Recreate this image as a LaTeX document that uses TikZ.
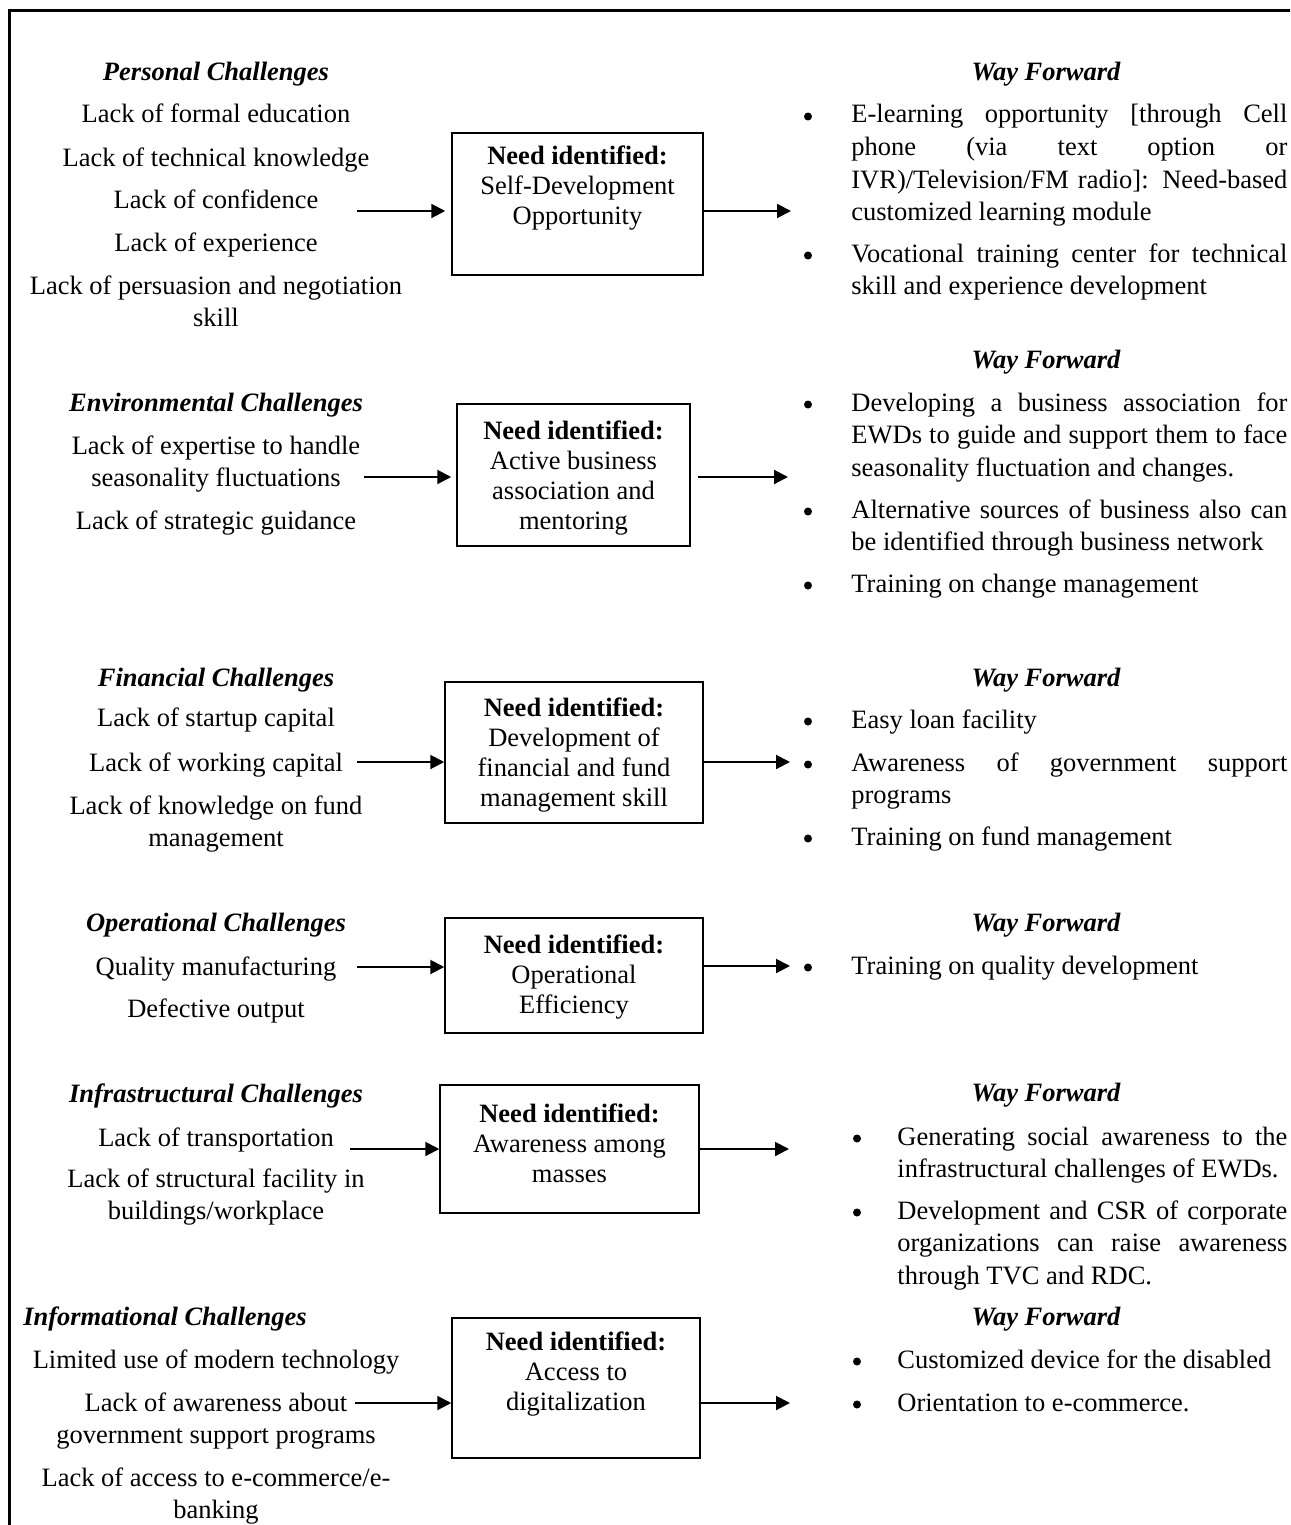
\documentclass[tikz,border=0pt]{standalone}
\usepackage{fontspec}
\setmainfont{Liberation Serif}
\usetikzlibrary{arrows.meta}
\newcommand{\cl}[1]{\begin{tabular}[t]{@{}c@{}}#1\end{tabular}}
\newcommand{\bt}[2]{\parbox[t]{#1}{#2}}
\begin{document}
\begin{tikzpicture}[x=0.5pt,y=-0.5pt,
  every node/.style={inner sep=0pt, font=\fontsize{13.25pt}{16.25pt}\selectfont},
  head/.style={anchor=base, yshift=-1pt, font=\fontsize{13.25pt}{16.25pt}\selectfont\bfseries\itshape},
  item/.style={anchor=base, yshift=-1pt},
  needbox/.style={draw, line width=0.75pt, inner sep=0pt},
  boxtext/.style={anchor=base, yshift=-0.5pt, font=\fontsize{13.25pt}{15pt}\selectfont},
  bul/.style={circle, fill=black, minimum size=4pt, inner sep=0pt, yshift=2.25pt},
  wf/.style={anchor=base west, yshift=-1pt},
  arr/.style={-{Triangle[length=7pt,width=7pt]}, line width=1pt},
  frame/.style={line width=1.5pt}]
\useasboundingbox (0,0) rectangle (1290,1525);
\clip (0,0) rectangle (1290,1525);
\draw[frame] (9,1560) -- (9,11) -- (1320,11);

% ---------------- Section 1 ----------------
\node[head] (h1) at (216,79) {Personal Challenges};
\node[item] (p1) at (216,121) {Lack of formal education};
\node[item] (p2) at (216,164) {Lack of technical knowledge};
\node[item] (p3) at (216,206) {Lack of confidence};
\node[item] (p4) at (216,249) {Lack of experience};
\node[item] (p5) at (216,292) {\cl{Lack of persuasion and negotiation\\skill}};
\node[needbox, minimum width=125.5pt, minimum height=71pt] (b1) at (577.5,204) {};
\node[boxtext] (t1) at (577.5,163) {\cl{\textbf{Need identified:}\\Self-Development\\Opportunity}};
\coordinate (a1s) at (357,211);
\coordinate (a1e) at (791,211);
\draw[arr, shorten >=3pt] (a1s) -- (a1s -| b1.west);
\draw[arr] (b1.east |- a1e) -- (a1e);
\node[head] (w1) at (1046,79) {Way Forward};
\node[bul] (w1b1) at (808,121) {};
\node[wf] (w1t1) at (851,121) {\bt{218pt}{E-learning opportunity [through Cell\linebreak phone (via text option or\linebreak IVR)/Television/FM radio]: Need-based\linebreak customized learning module}};
\node[bul] (w1b2) at (808,260) {};
\node[wf] (w1t2) at (851,260) {\bt{218pt}{Vocational training center for technical\linebreak skill and experience development}};

% ---------------- Section 2 ----------------
\node[head] (w2) at (1046,366) {Way Forward};
\node[head] (h2) at (216,409) {Environmental Challenges};
\node[item] (e1) at (216,452) {\cl{Lack of expertise to handle\\seasonality fluctuations}};
\node[item] (e2) at (216,527) {Lack of strategic guidance};
\node[needbox, minimum width=116.5pt, minimum height=71pt] (b2) at (573.5,475) {};
\node[boxtext] (t2) at (573.5,438) {\cl{\textbf{Need identified:}\\Active business\\association and\\mentoring}};
\coordinate (a2s) at (364,477);
\coordinate (a2e) at (788,477);
\draw[arr, shorten >=2.5pt] (a2s) -- (a2s -| b2.west);
\draw[arr, shorten <=3.5pt] (b2.east |- a2e) -- (a2e);
\node[bul] (w2b1) at (808,409) {};
\node[wf] (w2t1) at (851,409) {\bt{218pt}{Developing a business association for\linebreak EWDs to guide and support them to face\linebreak seasonality fluctuation and changes.}};
\node[bul] (w2b2) at (808,516) {};
\node[wf] (w2t2) at (851,516) {\bt{218pt}{Alternative sources of business also can\linebreak be identified through business network}};
\node[bul] (w2b3) at (808,590) {};
\node[wf] (w2t3) at (851,590) {\bt{218pt}{Training on change management}};

% ---------------- Section 3 ----------------
\node[head] (h3) at (216,684) {Financial Challenges};
\node[head] (w3) at (1046,684) {Way Forward};
\node[item] (f1) at (216,724) {Lack of startup capital};
\node[item] (f2) at (216,769) {Lack of working capital};
\node[item] (f3) at (216,812) {\cl{Lack of knowledge on fund\\management}};
\node[needbox, minimum width=129pt, minimum height=70.5pt] (b3) at (574,752.5) {};
\node[boxtext] (t3) at (574,715) {\cl{\textbf{Need identified:}\\Development of\\financial and fund\\management skill}};
\coordinate (a3s) at (357,762);
\coordinate (a3e) at (790,762);
\draw[arr] (a3s) -- (a3s -| b3.west);
\draw[arr] (b3.east |- a3e) -- (a3e);
\node[bul] (w3b1) at (808,726) {};
\node[wf] (w3t1) at (851,726) {\bt{218pt}{Easy loan facility}};
\node[bul] (w3b2) at (808,769) {};
\node[wf] (w3t2) at (851,769) {\bt{218pt}{Awareness of government support\linebreak programs}};
\node[bul] (w3b3) at (808,843) {};
\node[wf] (w3t3) at (851,843) {\bt{218pt}{Training on fund management}};

% ---------------- Section 4 ----------------
\node[head] (h4) at (216,929) {Operational Challenges};
\node[head] (w4) at (1046,929) {Way Forward};
\node[item] (o1) at (216,973) {Quality manufacturing};
\node[item] (o2) at (216,1015) {Defective output};
\node[needbox, minimum width=129pt, minimum height=57.5pt] (b4) at (574,975.5) {};
\node[boxtext] (t4) at (574,952) {\cl{\textbf{Need identified:}\\Operational\\Efficiency}};
\coordinate (a4s) at (357,967);
\coordinate (a4e) at (790,966);
\draw[arr] (a4s) -- (a4s -| b4.west);
\draw[arr] (b4.east |- a4e) -- (a4e);
\node[bul] (w4b1) at (808,972) {};
\node[wf] (w4t1) at (851,972) {\bt{218pt}{Training on quality development}};

% ---------------- Section 5 ----------------
\node[head] (h5) at (216,1100) {Infrastructural Challenges};
\node[head] (w5) at (1046,1099) {Way Forward};
\node[item] (i1) at (216,1144) {Lack of transportation};
\node[item] (i2) at (216,1185) {\cl{Lack of structural facility in\\buildings/workplace}};
\node[needbox, minimum width=129.5pt, minimum height=64pt] (b5) at (569.5,1149) {};
\node[boxtext] (t5) at (569.5,1121) {\cl{\textbf{Need identified:}\\Awareness among\\masses}};
\coordinate (a5s) at (350,1149);
\coordinate (a5e) at (789,1149);
\draw[arr] (a5s) -- (a5s -| b5.west);
\draw[arr] (b5.east |- a5e) -- (a5e);
\node[bul] (w5b1) at (857,1143) {};
\node[wf] (w5t1) at (897,1143) {\bt{195pt}{Generating social awareness to the\linebreak infrastructural challenges of EWDs.}};
\node[bul] (w5b2) at (857,1217) {};
\node[wf] (w5t2) at (897,1217) {\bt{195pt}{Development and CSR of corporate\linebreak organizations can raise awareness\linebreak through TVC and RDC.}};

% ---------------- Section 6 ----------------
\node[head] (h6) at (165,1323) {Informational Challenges};
\node[head] (w6) at (1046,1323) {Way Forward};
\node[item] (n1) at (216,1366) {Limited use of modern technology};
\node[item] (n2) at (216,1409) {\cl{Lack of awareness about\\government support programs}};
\node[item] (n3) at (216,1484) {\cl{Lack of access to e-commerce/e-\\banking}};
\node[needbox, minimum width=124pt, minimum height=70pt] (b6) at (576,1388) {};
\node[boxtext] (t6) at (576,1349) {\cl{\textbf{Need identified:}\\Access to\\digitalization}};
\coordinate (a6s) at (355,1403);
\coordinate (a6e) at (790,1403);
\draw[arr] (a6s) -- (a6s -| b6.west);
\draw[arr] (b6.east |- a6e) -- (a6e);
\node[bul] (w6b1) at (857,1366) {};
\node[wf] (w6t1) at (897,1366) {\bt{195pt}{Customized device for the disabled}};
\node[bul] (w6b2) at (857,1409) {};
\node[wf] (w6t2) at (897,1409) {\bt{195pt}{Orientation to e-commerce.}};
\end{tikzpicture}
\end{document}
